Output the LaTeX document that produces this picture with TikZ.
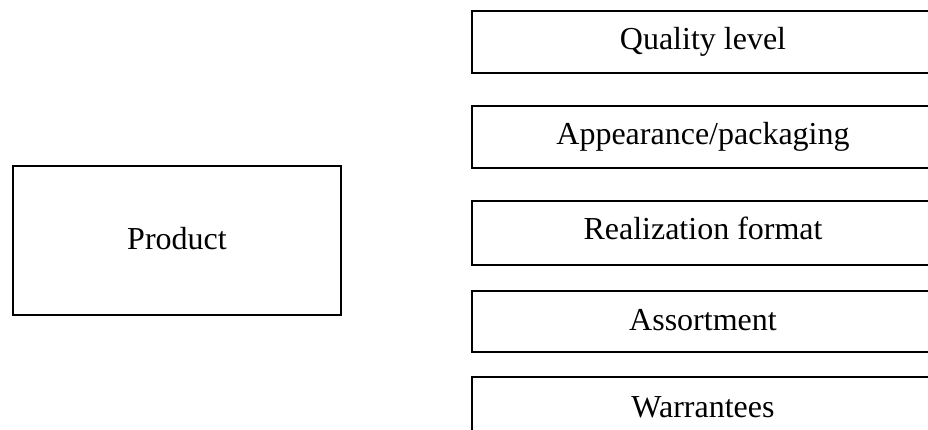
\documentclass[tikz,border=0pt]{standalone}
\usepackage{fontspec}
\setmainfont{Liberation Serif}
\begin{document}
\begin{tikzpicture}[x=1pt,y=-1pt,
  box/.style={draw=black,line width=2.5pt,rectangle,inner sep=0pt},
  lbl/.style={anchor=base,inner sep=0pt,font=\fontsize{32}{38}\selectfont}]
\useasboundingbox (0,0) rectangle (928,430);
\clip (0,0) rectangle (928,430);
% Product box
\node[box,minimum width=328pt,minimum height=149pt] (prod) at (177,240.5) {};
\node[lbl] (prodt) at (177,250) {Product};
% right boxes
\node[box,minimum width=462pt,minimum height=62pt] (q) at (703,42) {};
\node[box,minimum width=462pt,minimum height=62pt] (a) at (703,137) {};
\node[box,minimum width=462pt,minimum height=64pt] (r) at (703,233) {};
\node[box,minimum width=462pt,minimum height=61pt] (s) at (703,321.5) {};
\node[box,minimum width=462pt,minimum height=62pt] (w) at (703,408) {};
\node[lbl] (qt) at (703,50) {Quality level};
\node[lbl] (at) at (703,145) {Appearance/packaging};
\node[lbl] (rt) at (703,240) {Realization format};
\node[lbl] (st) at (703,330) {Assortment};
\node[lbl] (wt) at (703,417) {Warrantees};
\end{tikzpicture}
\end{document}
